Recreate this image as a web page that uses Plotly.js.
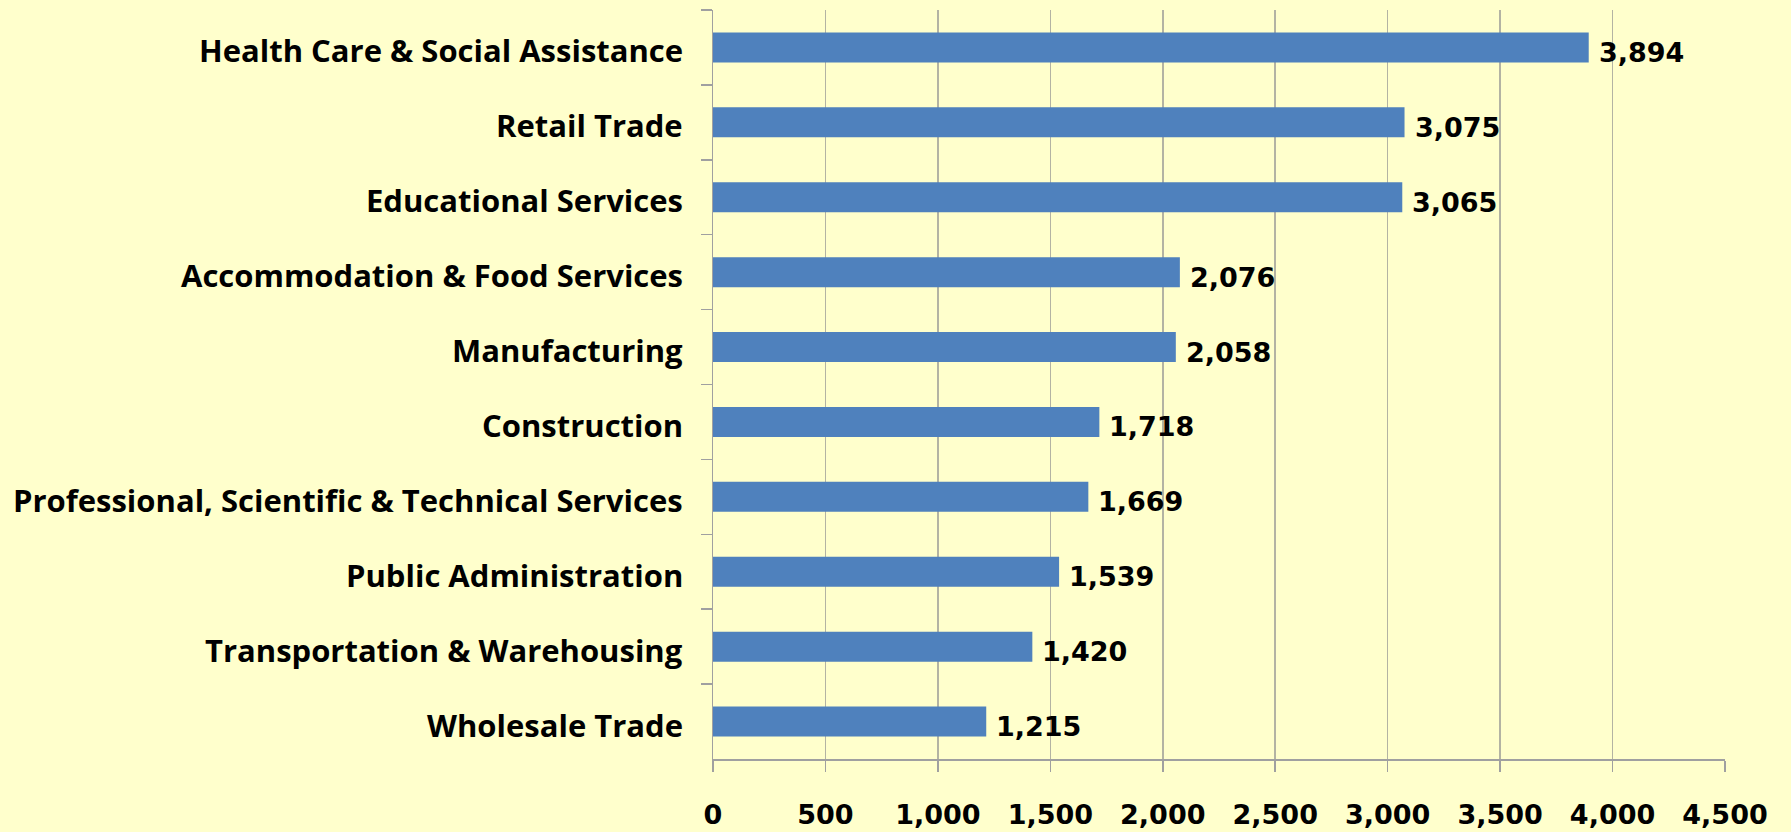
<!DOCTYPE html>
<html>
<head>
<meta charset="utf-8">
<script src="https://cdn.plot.ly/plotly-3.0.1.min.js"></script>
<style>
  html, body { margin: 0; padding: 0; background: #FFFFCC; }
  #chart { width: 1791px; height: 832px; }
</style>
</head>
<body>
<div id="chart"></div>
<script>
const categories = [
  "Health Care & Social Assistance",
  "Retail Trade",
  "Educational Services",
  "Accommodation & Food Services",
  "Manufacturing",
  "Construction",
  "Professional, Scientific & Technical Services",
  "Public Administration",
  "Transportation & Warehousing",
  "Wholesale Trade"
];
const values = [3894, 3075, 3065, 2076, 2058, 1718, 1669, 1539, 1420, 1215];
const xTickValues = [0, 500, 1000, 1500, 2000, 2500, 3000, 3500, 4000, 4500];

const labelFont = { family: "DejaVu Sans", size: 27, color: "#000000", weight: 700 };
const catFont = { family: "Open Sans", size: 31, color: "#000000", weight: 700 };

const trace = {
  type: "bar",
  orientation: "h",
  x: values,
  y: categories,
  marker: { color: "#4F81BD", line: { width: 0 } },
  width: 0.4,
  hoverinfo: "x+y"
};

const valueAnnotations = values.map((v, i) => ({
  x: v,
  y: categories[i],
  xref: "x",
  yref: "y",
  text: v.toLocaleString("en-US"),
  showarrow: false,
  xanchor: "left",
  yanchor: "middle",
  xshift: 8,
  yshift: -5,
  font: labelFont
}));

const categoryAnnotations = categories.map((c) => ({
  x: 0,
  y: c,
  xref: "paper",
  yref: "y",
  text: c,
  showarrow: false,
  xanchor: "right",
  yanchor: "middle",
  xshift: -28,
  yshift: -3,
  font: catFont
}));

const layout = {
  width: 1791,
  height: 832,
  paper_bgcolor: "#FFFFCC",
  plot_bgcolor: "#FFFFCC",
  margin: { l: 713, r: 66, t: 10, b: 73, pad: 0 },
  showlegend: false,
  bargap: 0.6,
  xaxis: {
    range: [0, 4500],
    tickvals: xTickValues,
    tickformat: ",d",
    showgrid: true,
    gridcolor: "#B3B3A3",
    gridwidth: 1.5,
    zeroline: false,
    showline: true,
    linecolor: "#A0A0A0",
    linewidth: 1.5,
    ticks: "outside",
    ticklen: 11,
    tickwidth: 1.5,
    tickcolor: "#A0A0A0",
    ticklabelstandoff: 20,
    tickfont: labelFont,
    fixedrange: true
  },
  yaxis: {
    type: "category",
    autorange: "reversed",
    tickson: "boundaries",
    ticks: "outside",
    ticklen: 11,
    tickwidth: 1.5,
    tickcolor: "#A0A0A0",
    showgrid: false,
    showline: true,
    linecolor: "#A0A0A0",
    linewidth: 1.5,
    zeroline: false,
    showticklabels: false,
    fixedrange: true
  },
  annotations: categoryAnnotations.concat(valueAnnotations)
};

Plotly.newPlot("chart", [trace], layout, { displayModeBar: false, staticPlot: true });
</script>
</body>
</html>
